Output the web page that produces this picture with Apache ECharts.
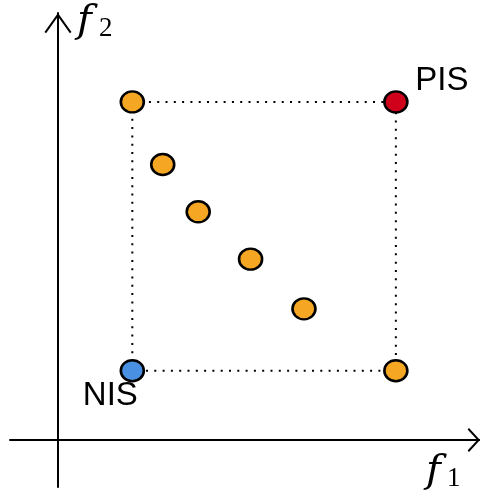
<!DOCTYPE html>
<html>
<head>
<meta charset="utf-8">
<script src="https://cdn.jsdelivr.net/npm/echarts@6/dist/echarts.min.js"></script>
<style>
html,body{margin:0;padding:0;background:#fff;}
#chart{width:480px;height:494px;}
</style>
</head>
<body>
<div id="chart"></div>
<script>
// ---- data ----
const PIS = [10, 10];           // positive ideal solution (f1, f2)
const NIS = [2.2, 2.05];        // negative ideal solution (f1, f2)
const altF1 = [3.1, 4.15, 5.7, 7.28];   // alternatives on the front
const altF2 = [8.15, 6.75, 5.35, 3.88];
const labelPIS = 'PIS';
const labelNIS = 'NIS';
const axisNames = ['f', 'f'];
const axisSubs = ['1', '2'];

// ---- derived ----
const cornerTL = [NIS[0], PIS[1]];
const cornerBR = [PIS[0], NIS[1]];
const boxPath = [cornerTL, PIS, cornerBR, NIS, cornerTL];
const altPoints = altF1.map((v, i) => [v, altF2[i]]);

const orange = '#F5A623', red = '#D0021B', blue = '#4A90E2';
const dotStyle = { color: '#000', width: 2, type: [2, 6.3] };
const ptStyle = (c) => ({ color: c, borderColor: '#000', borderWidth: 2.5, opacity: 1 });

// open chevron arrow paths (pointing up)
const arrowY = 'path://M13.5 0 L27 19 L25.4 20.2 L13.5 3.4 L1.6 20.2 L0 19 Z';
const arrowX = 'path://M12 0 L24 11 L22.5 12.4 L12 2.7 L1.5 12.4 L0 11 Z';

const chart = echarts.init(document.getElementById('chart'), null, { renderer: 'canvas' });
chart.setOption({
  animation: false,
  backgroundColor: '#fff',
  grid: { left: 10, right: 0, top: 13, bottom: 7 },
  xAxis: {
    type: 'value', min: -1.42, max: 12.49,
    axisLine: { onZero: true, lineStyle: { color: '#000', width: 2 },
      symbol: ['none', arrowX], symbolSize: [24, 12.4], symbolOffset: [0, -6.2] },
    axisTick: { show: false }, axisLabel: { show: false }, splitLine: { show: false }
  },
  yAxis: {
    type: 'value', min: -1.39, max: 12.63,
    axisLine: { onZero: true, lineStyle: { color: '#000', width: 2 },
      symbol: ['none', arrowY], symbolSize: [27, 20.2], symbolOffset: [0, -10.1] },
    axisTick: { show: false }, axisLabel: { show: false }, splitLine: { show: false }
  },
  graphic: [
    { type: 'text', left: 77, top: 2, z: 10,
      style: { text: axisNames[1], font: 'italic 40px "DejaVu Serif"', fill: '#000' } },
    { type: 'text', left: 99, top: 15, z: 10,
      style: { text: axisSubs[1], font: '27px "Liberation Serif"', fill: '#000' } },
    { type: 'text', left: 426, top: 452, z: 10,
      style: { text: axisNames[0], font: 'italic 40px "DejaVu Serif"', fill: '#000' } },
    { type: 'text', left: 447, top: 465, z: 10,
      style: { text: axisSubs[0], font: '27px "Liberation Serif"', fill: '#000' } }
  ],
  series: [
    { type: 'line', data: boxPath, symbol: 'none', lineStyle: dotStyle, z: 1, silent: true },
    { type: 'scatter', data: altPoints.concat([cornerTL, cornerBR]), symbol: 'circle',
      symbolSize: [23, 21], itemStyle: ptStyle(orange), z: 5 },
    { type: 'scatter', data: [PIS], symbol: 'circle', symbolSize: [23, 21], itemStyle: ptStyle(red), z: 5,
      label: { show: true, position: 'inside', offset: [46, -21.5], formatter: labelPIS,
        fontFamily: 'Liberation Sans', fontSize: 33, color: '#000' } },
    { type: 'scatter', data: [NIS], symbol: 'circle', symbolSize: [23, 21], itemStyle: ptStyle(blue), z: 5,
      label: { show: true, position: 'inside', offset: [-22, 25], formatter: labelNIS,
        fontFamily: 'Liberation Sans', fontSize: 33, color: '#000' } }
  ]
});
</script>
</body>
</html>
